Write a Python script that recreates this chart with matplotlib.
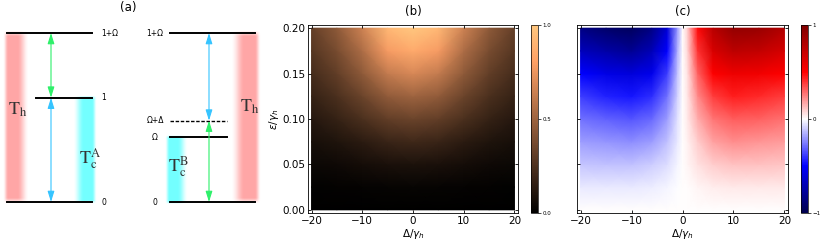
import numpy as np
import matplotlib
matplotlib.use("Agg")
import matplotlib.pyplot as plt

# ---- panel (a): level scheme (energies in units of the 0 -> 1 gap)
Omega = 0.62
Delta = 0.16
levels_A = [0.0, 1.0, 1.0 + Omega]
levels_B = [0.0, Omega, Omega + Delta, 1.0 + Omega]
labels_A = ["0", "1", "1+\u03a9"]
labels_B = ["0", "\u03a9", "\u03a9+\u0394", "1+\u03a9"]

# ---- panel (b): normalised power, eps/gamma_h vs Delta/gamma_h
b_x = [-20, -15, -10, -5, 0, 5, 10, 15, 20]
b_y = [0.0, 0.025, 0.05, 0.075, 0.1, 0.125, 0.15, 0.175, 0.2]
b_half = [
    [0.000, 0.000, 0.000, 0.000, 0.000],
    [0.010, 0.014, 0.018, 0.022, 0.025],
    [0.040, 0.050, 0.070, 0.085, 0.090],
    [0.075, 0.100, 0.140, 0.180, 0.200],
    [0.120, 0.170, 0.240, 0.310, 0.340],
    [0.170, 0.240, 0.340, 0.460, 0.500],
    [0.220, 0.310, 0.450, 0.620, 0.680],
    [0.270, 0.380, 0.550, 0.780, 0.850],
    [0.320, 0.450, 0.650, 0.920, 1.000],
]
b_vals = np.array([r + r[-2::-1] for r in b_half])

# ---- panel (c): signed quantity, same axes
c_x = [-20, -15, -10, -6, -3, -1, 0, 1, 3, 6, 10, 15, 20]
c_y = b_y
c_vals = np.array([
    [0, 0, 0, 0, 0, 0, 0, 0, 0, 0, 0, 0, 0],
    [-0.04, -0.045, -0.045, -0.035, -0.02, -0.005, 0, 0.005, 0.02, 0.035, 0.045, 0.045, 0.04],
    [-0.11, -0.12, -0.12, -0.10, -0.07, -0.02, 0, 0.02, 0.06, 0.10, 0.12, 0.12, 0.11],
    [-0.19, -0.21, -0.22, -0.19, -0.12, -0.04, 0, 0.03, 0.10, 0.18, 0.22, 0.21, 0.19],
    [-0.28, -0.31, -0.33, -0.29, -0.19, -0.06, 0, 0.04, 0.16, 0.27, 0.32, 0.31, 0.28],
    [-0.38, -0.43, -0.46, -0.41, -0.28, -0.09, 0, 0.05, 0.23, 0.38, 0.44, 0.42, 0.38],
    [-0.50, -0.57, -0.60, -0.55, -0.38, -0.12, 0, 0.06, 0.31, 0.50, 0.57, 0.55, 0.50],
    [-0.68, -0.75, -0.80, -0.70, -0.50, -0.16, 0, 0.08, 0.40, 0.65, 0.76, 0.74, 0.66],
    [-0.85, -0.92, -0.95, -0.85, -0.62, -0.20, 0, 0.10, 0.48, 0.78, 0.92, 0.90, 0.80],
])

GREEN = "#2ef06a"
BLUE = "#35c4ff"
RED_BAND = ((1.0, 0.3, 0.3), 0.5)
CYAN_BAND = ((0.0, 1.0, 1.0), 0.55)


def band(ax, x0, x1, y0, y1, spec, outer="left"):
    """soft coloured bath column with blurred edges, softer on the inner side"""
    color, amax = spec
    u = np.linspace(0, 1, 80)
    if outer == "right":
        u = u[::-1]
    ah = np.clip(u / 0.2, 0, 1) * np.clip((1 - u) / 0.45, 0, 1)
    ah = ah * ah * (3 - 2 * ah)
    v = np.linspace(0, 1, 100)
    av = np.clip(v / 0.03, 0, 1) * np.clip((1 - v) / 0.03, 0, 1)
    img = np.zeros((100, 80, 4))
    img[..., :3] = color
    img[..., 3] = amax * np.outer(av, ah)
    pad = 0.02
    ax.imshow(img, extent=(x0, x1, y0 - pad, y1 + pad), origin="lower",
              aspect="auto", interpolation="bilinear", zorder=1)


def darrow(ax, x, ya, yb, color):
    ax.annotate("", xy=(x, yb), xytext=(x, ya),
                arrowprops=dict(arrowstyle="<|-|>,head_length=0.8,head_width=0.25",
                                color=color, lw=0.8, mutation_scale=8,
                                shrinkA=0, shrinkB=0),
                zorder=3)


fig = plt.figure(figsize=(8.3, 2.47), dpi=100)

# ---------------- (a)
axa = fig.add_axes([0, 0, 270 / 830, 1])
scale = 169 / (1.0 + Omega)
axa.set_xlim(0, 270)
axa.set_ylim(-(247 - 202) / scale, (1.0 + Omega) + 33 / scale)
axa.axis("off")

top = 1.0 + Omega
band(axa, 3, 28, 0, top, RED_BAND, outer="left")
band(axa, 73, 96, 0, 1.0, CYAN_BAND, outer="right")
band(axa, 165, 188, 0, Omega, CYAN_BAND, outer="left")
band(axa, 231, 261, 0, top, RED_BAND, outer="right")

for lv, lab in zip(levels_A, labels_A):
    x0 = 36 if lab == "1" else 7
    axa.plot([x0, 92], [lv, lv], color="k", lw=1.4, zorder=2)
    axa.text(101, lv, lab, fontsize=5.5, ha="left", va="center")
for lv, lab in zip(levels_B, labels_B):
    x1 = 255 if lab in ("0", "1+\u03a9") else 227
    ls = "--" if lab == "\u03a9+\u0394" else "-"
    lw = 1.0 if ls == "--" else 1.4
    axa.plot([170, x1], [lv, lv], color="k", lw=lw, ls=ls, zorder=2,
             dashes=(2.5, 1.2) if ls == "--" else (None, None))
    axa.text(155, lv, lab, fontsize=5.5, ha="center", va="center")

darrow(axa, 51, 1.0, top, GREEN)
darrow(axa, 51, 0.0, 1.0, BLUE)
darrow(axa, 209, Omega + Delta, top, BLUE)
darrow(axa, 209, 0.0, Omega + Delta, GREEN)

tkw = dict(math_fontfamily="stix", color="#333333", ha="left", va="center",
           fontsize=13, zorder=4)
axa.text(8, 0.88, r"$\mathrm{T_h}$", **tkw)
axa.text(240, 0.91, r"$\mathrm{T_h}$", **tkw)
axa.text(79, 0.42, r"$\mathrm{T_c^{A}}$", **tkw)
axa.text(168, 0.34, r"$\mathrm{T_c^{B}}$", **tkw)
axa.text(128, axa.get_ylim()[1] - 7 / scale, "(a)", fontsize=8.5, ha="center", va="center")


def style_map(ax):
    ax.set_xlim(-20.7, 20.7)
    ax.set_ylim(-0.0035, 0.2035)
    ax.set_xticks([-20, -10, 0, 10, 20])
    ax.set_yticks([0.0, 0.05, 0.10, 0.15, 0.20])
    ax.tick_params(direction="in", top=True, right=True, labelsize=7.5,
                   length=2.5, width=0.6, pad=2)
    for s in ax.spines.values():
        s.set_linewidth(0.6)
    ax.set_xlabel(r"$\Delta/\gamma_h$", fontsize=7.5, labelpad=1)


def style_cbar(cb, ticks, labels):
    cb.set_ticks(ticks)
    cb.set_ticklabels(labels)
    cb.ax.tick_params(labelsize=4, length=2, width=0.5, pad=1)
    cb.outline.set_linewidth(0.5)


# ---------------- (b)
axb = fig.add_axes([308 / 830, 34 / 247, 210 / 830, 188 / 247])
mb = axb.pcolormesh(b_x, b_y, b_vals, cmap="copper", vmin=0, vmax=1,
                    shading="gouraud", rasterized=True)
style_map(axb)
axb.set_yticklabels(["0.00", "0.05", "0.10", "0.15", "0.20"])
axb.set_ylabel(r"$\epsilon/\gamma_h$", fontsize=7.5, labelpad=1)
axb.set_title("(b)", fontsize=8.5, pad=7)
caxb = fig.add_axes([531 / 830, 34 / 247, 7 / 830, 188 / 247])
cbb = fig.colorbar(mb, cax=caxb)
style_cbar(cbb, [0, 0.5, 1.0], ["0.0", "0.5", "1.0"])

# ---------------- (c)
axc = fig.add_axes([577 / 830, 34 / 247, 211 / 830, 188 / 247])
mc = axc.pcolormesh(c_x, c_y, c_vals, cmap="seismic", vmin=-1, vmax=1,
                    shading="gouraud", rasterized=True)
style_map(axc)
axc.set_yticklabels([])
axc.set_title("(c)", fontsize=8.5, pad=7)
caxc = fig.add_axes([801 / 830, 34 / 247, 7 / 830, 188 / 247])
cbc = fig.colorbar(mc, cax=caxc)
style_cbar(cbc, [-1, 0, 1], ["\u22121", "0", "1"])

fig.savefig("out.png", dpi=100)
